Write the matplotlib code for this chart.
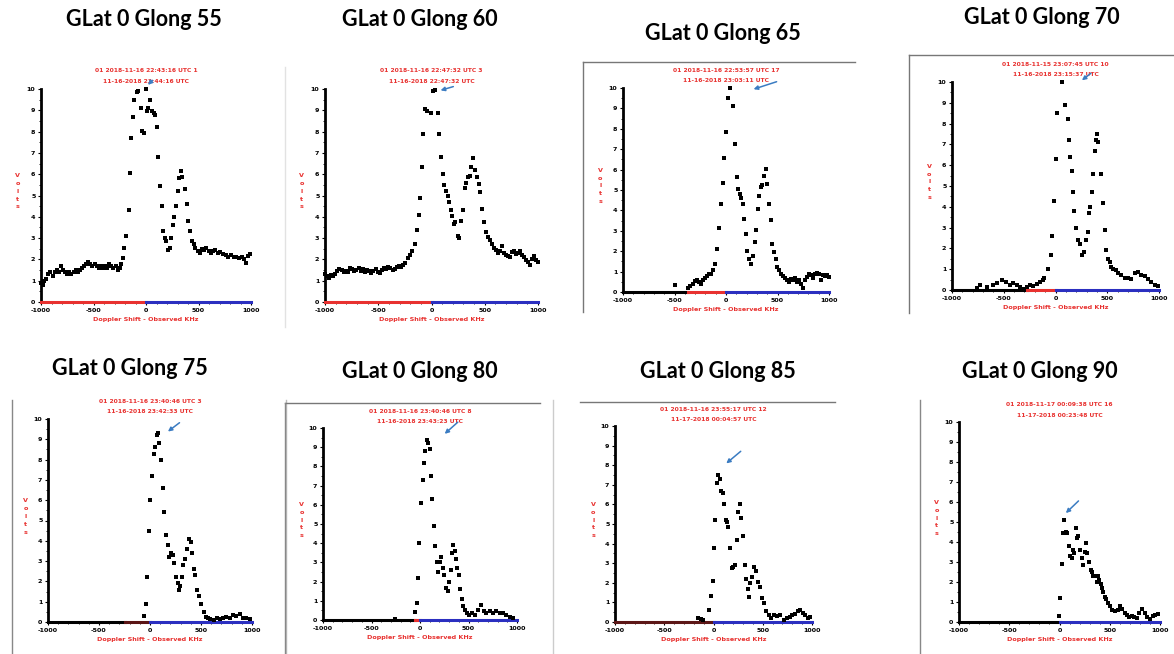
import numpy as np
import matplotlib
matplotlib.use("Agg")
import matplotlib.pyplot as plt
from matplotlib.lines import Line2D

# ================================================================
# Data (Doppler shift kHz, volts)
# ================================================================
titles = ["GLat 0 Glong 55", "GLat 0 Glong 60", "GLat 0 Glong 65", "GLat 0 Glong 70",
          "GLat 0 Glong 75", "GLat 0 Glong 80", "GLat 0 Glong 85", "GLat 0 Glong 90"]

headers = [
    ("01 2018-11-16 22:43:16 UTC 1", "11-16-2018 23:44:16 UTC"),
    ("01 2018-11-16 22:47:32 UTC 3", "11-16-2018 22:47:32 UTC"),
    ("01 2018-11-16 22:53:57 UTC 17", "11-16-2018 23:03:11 UTC"),
    ("01 2018-11-15 23:07:45 UTC 10", "11-16-2018 23:15:37 UTC"),
    ("01 2018-11-16 23:40:46 UTC 3", "11-16-2018 23:42:33 UTC"),
    ("01 2018-11-16 23:40:46 UTC 8", "11-16-2018 23:43:23 UTC"),
    ("01 2018-11-16 23:55:17 UTC 12", "11-17-2018 00:04:57 UTC"),
    ("01 2018-11-17 00:09:38 UTC 16", "11-17-2018 00:23:48 UTC"),
]

x55 = [-1000, -985, -970, -950, -930, -910, -890, -870, -850, -830, -810, -790, -770, -750,
       -730, -710, -690, -670, -650, -630, -610, -590, -570, -550, -530, -510, -490, -470,
       -450, -430, -410, -390, -370, -350, -330, -310, -290, -270, -250, -235,
       -219, -206, -187, -165, -156, -140, -124, -111, -89, -76, -51, -38, -22, 0, 9, 22,
       41, 57, 73, 86, 105, 117, 133, 149, 162, 181, 194, 210, 225, 241, 254, 270, 286, 302,
       317, 330, 340, 368, 387, 400, 416, 438, 454, 470, 492, 511, 533, 556, 575, 597, 619,
       638, 660, 683, 708, 733, 759, 784, 810, 835, 860, 886, 911, 937, 956, 975, 994]
y55 = [0.9, 0.8, 1.0, 1.1, 1.3, 1.4, 1.2, 1.4, 1.5, 1.4, 1.7, 1.5, 1.4, 1.3, 1.4, 1.3, 1.4,
       1.5, 1.4, 1.5, 1.6, 1.7, 1.8, 1.9, 1.8, 1.7, 1.8, 1.7, 1.6, 1.7, 1.6, 1.7, 1.6, 1.8,
       1.7, 1.6, 1.7, 1.5, 1.6, 1.8,
       2.05, 2.55, 3.1, 4.3, 6.05, 7.7, 8.7, 9.5, 9.85, 9.9, 9.1, 8.05, 7.95, 10.0, 8.95, 9.1,
       9.5, 8.95, 8.85, 8.8, 8.2, 6.8, 5.45, 4.5, 3.35, 3.0, 2.85, 2.45, 2.55, 3.0, 3.6, 4.0,
       4.5, 5.2, 5.8, 6.15, 5.85, 5.3, 4.6, 3.8, 3.35, 2.85, 2.7, 2.55, 2.4, 2.3, 2.5, 2.45,
       2.55, 2.4, 2.3, 2.4, 2.45, 2.3, 2.35, 2.25, 2.2, 2.1, 2.2, 2.1, 2.1, 2.05, 2.1, 2.0,
       1.85, 2.15, 2.25]

x60 = [-1000, -985, -965, -945, -925, -905, -885, -865, -845, -825, -805, -785, -765, -745,
       -725, -705, -685, -665, -645, -625, -605, -585, -565, -545, -525, -505, -485, -465,
       -445, -425, -405, -385, -365, -345, -325, -305, -285, -265, -245, -225, -205, -185,
       -152, -133, -118, -108, -93, -77, -58, -46, -5, 17, 36, 58, 74, 89, 105, 121, 137,
       152, 168, 181, 193, 209, 221, 246, 262, 278, 294, 312, 325, 344, 359, 375, 391, 407,
       429, 444, 460, 476, 494, 513, 532, 551, 570, 589, 608, 626, 645, 664, 683, 702, 721,
       739, 758, 777, 796, 815, 834, 852, 871, 890, 909, 928, 947, 965, 984, 1000]
y60 = [1.3, 1.2, 1.15, 1.25, 1.2, 1.3, 1.45, 1.55, 1.5, 1.4, 1.45, 1.4, 1.6, 1.55, 1.45,
       1.5, 1.6, 1.45, 1.55, 1.4, 1.5, 1.45, 1.35, 1.45, 1.55, 1.4, 1.35, 1.5, 1.6, 1.55,
       1.65, 1.6, 1.5, 1.55, 1.65, 1.7, 1.65, 1.75, 1.85, 2.05, 2.2, 2.4,
       2.7, 3.4, 4.1, 4.9, 6.35, 7.9, 9.05, 8.95, 8.85, 9.9, 9.95, 8.85, 7.9, 6.8, 6.0, 5.5,
       5.2, 5.0, 4.7, 4.3, 4.05, 3.65, 3.75, 3.1, 3.0, 3.8, 4.3, 5.35, 5.6, 5.85, 5.9, 6.35,
       6.75, 6.2, 5.85, 5.55, 5.15, 4.35, 3.75, 3.3, 3.05, 2.9, 2.7, 2.55, 2.45, 2.3, 2.4,
       2.65, 2.3, 2.2, 2.15, 2.1, 2.35, 2.4, 2.25, 2.3, 2.4, 2.2, 2.1, 1.95, 1.9, 1.75, 2.0,
       2.15, 1.95, 1.9]

x65 = [-495, -372, -350, -324, -298, -278, -259, -239, -220, -201, -181, -162, -142, -123,
       -104, -84, -65, -49, -32, -16, 0, 16, 39, 71, 91, 104, 120, 136, 149, 162, 175, 191,
       207, 223, 243, 259, 278, 291, 307, 324, 340, 353, 369, 385, 401, 417, 434, 450, 466,
       482, 498, 515, 531, 550, 570, 589, 608, 628, 647, 667, 686, 705, 725, 744, 764, 783,
       803, 822, 841, 861, 880, 900, 919, 939, 958, 977, 997]
y65 = [0.33, 0.2, 0.28, 0.4, 0.54, 0.57, 0.5, 0.38, 0.6, 0.7, 0.77, 0.9, 0.87, 1.1, 1.35,
       2.1, 3.15, 4.33, 5.35, 6.55, 7.85, 9.5, 10.0, 9.1, 7.27, 5.64, 5.07, 4.82, 4.62, 4.3,
       3.6, 2.86, 2.0, 1.63, 1.39, 1.75, 2.45, 3.06, 4.08, 4.7, 5.15, 5.23, 5.67, 6.05, 5.28,
       4.3, 3.55, 2.37, 1.96, 1.63, 1.23, 1.06, 0.9, 0.77, 0.7, 0.6, 0.49, 0.65, 0.57, 0.7,
       0.49, 0.57, 0.41, 0.21, 0.6, 0.74, 0.9, 0.82, 0.7, 0.87, 0.93, 0.9, 0.6, 0.82, 0.77,
       0.82, 0.74]

x70 = [-760, -729, -664, -600, -568, -520, -478, -440, -408, -375, -343, -311, -279, -247,
       -215, -183, -151, -125, -112, -71, -48, -29, -13, 0, 19, 61, 90, 116, 132, 144, 157,
       170, 183, 202, 222, 234, 254, 273, 299, 311, 324, 337, 350, 363, 379, 395, 401, 414,
       443, 459, 475, 491, 507, 523, 539, 555, 581, 604, 636, 668, 700, 732, 764, 796, 828,
       860, 892, 924, 957, 989]
y70 = [0.1, 0.25, 0.15, 0.25, 0.35, 0.5, 0.4, 0.25, 0.35, 0.25, 0.15, 0.05, 0.15, 0.25,
       0.2, 0.3, 0.4, 0.5, 0.6, 1.0, 1.7, 2.6, 4.3, 6.3, 8.5, 10.0, 8.9, 8.2, 7.2, 6.4, 5.7,
       4.7, 3.8, 3.0, 2.4, 2.2, 1.7, 1.85, 2.4, 2.8, 3.7, 4.0, 4.7, 5.6, 6.7, 7.2, 7.5, 7.1,
       5.6, 4.2, 2.9, 1.9, 1.5, 1.35, 1.1, 1.0, 0.95, 0.8, 0.7, 0.6, 0.6, 0.55, 0.8, 0.85,
       0.7, 0.65, 0.55, 0.4, 0.25, 0.2]

x75 = [-59, -43, -30, -13, 3, 20, 36, 49, 66, 75, 92, 108, 125, 141, 157, 174, 190, 207,
       223, 239, 256, 272, 285, 298, 311, 328, 348, 367, 387, 403, 413, 430, 446, 462, 479,
       502, 525, 548, 567, 590, 623, 656, 682, 715, 748, 780, 813, 846, 879, 911, 944, 984]
y75 = [0.3, 0.9, 2.2, 4.5, 6.0, 7.2, 8.3, 8.6, 9.2, 9.3, 8.8, 8.0, 6.6, 5.4, 4.3, 3.8, 3.2,
       3.4, 3.3, 2.9, 2.2, 1.9, 1.6, 1.75, 2.2, 2.8, 3.1, 3.6, 4.1, 3.95, 3.4, 2.6, 2.3, 1.6,
       1.3, 0.9, 0.5, 0.25, 0.2, 0.15, 0.1, 0.2, 0.15, 0.2, 0.25, 0.2, 0.35, 0.3, 0.4, 0.2,
       0.2, 0.15]

x80 = [-257, -51, -34, -21, -7, 10, 27, 41, 55, 68, 82, 99, 113, 127, 144, 158, 171, 185,
       202, 219, 233, 250, 267, 284, 301, 315, 329, 342, 356, 370, 384, 397, 411, 428, 445,
       466, 486, 507, 534, 565, 599, 627, 658, 685, 719, 753, 788, 822, 856, 890, 925, 959]
y80 = [0.05, 0.4, 0.9, 2.2, 4.0, 6.1, 7.3, 8.2, 8.8, 9.4, 9.2, 8.9, 7.5, 6.3, 4.9, 3.85,
       3.0, 2.5, 3.0, 3.3, 2.7, 2.35, 1.65, 1.5, 2.0, 2.6, 3.5, 3.9, 3.6, 3.2, 2.7, 2.35,
       1.6, 1.1, 0.75, 0.5, 0.35, 0.25, 0.35, 0.25, 0.5, 0.8, 0.45, 0.35, 0.45, 0.35, 0.45,
       0.35, 0.35, 0.25, 0.15, 0.1]

x85 = [-153, -129, -102, -41, -24, -10, 7, 20, 34, 47, 61, 78, 95, 108, 125, 136, 149, 169,
       190, 203, 217, 237, 251, 268, 278, 298, 315, 332, 346, 359, 373, 393, 414, 434, 454,
       475, 495, 515, 536, 559, 583, 610, 644, 678, 712, 746, 773, 800, 827, 854, 881, 908,
       932, 956, 983]
y85 = [0.2, 0.15, 0.1, 0.6, 1.35, 2.1, 3.8, 5.2, 7.1, 7.5, 7.3, 6.7, 6.6, 6.0, 5.2, 5.1,
       4.85, 3.8, 2.75, 2.8, 2.9, 4.2, 5.6, 6.0, 5.3, 4.4, 2.9, 2.2, 1.7, 1.3, 2.0, 2.3, 2.8,
       2.6, 2.05, 1.8, 1.2, 0.95, 0.55, 0.35, 0.2, 0.35, 0.3, 0.35, 0.1, 0.2, 0.25, 0.35,
       0.4, 0.55, 0.6, 0.45, 0.35, 0.2, 0.25]

x90 = [-7, 7, 20, 37, 46, 60, 76, 90, 103, 120, 133, 146, 163, 176, 189, 203, 219, 236, 249,
       262, 276, 292, 309, 322, 336, 352, 369, 382, 395, 409, 422, 435, 449, 465, 482, 502,
       525, 551, 578, 601, 625, 648, 671, 694, 718, 741, 767, 794, 821, 847, 874, 900, 927,
       953, 980]
y90 = [0.3, 1.2, 2.9, 4.45, 5.1, 4.5, 4.45, 3.8, 3.3, 3.2, 3.6, 3.45, 4.7, 4.2, 4.3, 3.6,
       3.2, 2.85, 3.5, 3.95, 3.45, 3.0, 2.6, 2.5, 2.3, 2.3, 2.0, 2.3, 2.1, 1.9, 1.7, 1.5,
       1.25, 1.15, 0.95, 0.8, 0.6, 0.55, 0.6, 0.8, 0.65, 0.45, 0.35, 0.25, 0.3, 0.25, 0.2,
       0.45, 0.65, 0.45, 0.25, 0.15, 0.3, 0.35, 0.4]

xs = [x55, x60, x65, x70, x75, x80, x85, x90]
ys = [y55, y60, y65, y70, y75, y80, y85, y90]

# arrow (tip, tail) per panel, in data units
arrows = [((0, 10.1), (80, 10.5)), ((60, 9.9), (230, 10.15)), ((242, 9.9), (517, 10.35)),
          ((234, 10.0), (363, 10.5)), ((154, 9.3), (311, 9.9)), ((233, 9.6), (411, 10.4)),
          ((108, 8.0), (298, 8.8)), ((43, 5.35), (209, 6.15))]

# x-axis colour split: black until split, then second colour until 0, blue after
axis_split = [-1000, -1000, -372, -280, -250, -51, -1000, 0]
axis_mid = ['#e8312f', '#e8312f', '#e8312f', '#e8312f', '#5a1414', '#e8312f', '#5c1616', '#e8312f']

# ================================================================
# Layout (pixels in the 1174x654 picture)
# ================================================================
W, H = 1174, 654
boxes = [(41, 251, 89, 302), (325, 538, 89, 302), (623, 829, 88, 292), (952, 1159, 82, 290),
         (48, 252, 419, 622), (323, 517, 428, 620), (615, 812, 426, 622), (959, 1160, 422, 622)]
title_pos = [(144, 20), (420, 20), (723, 33), (1042, 18),
             (130, 369), (420, 372), (718, 372), (1040, 372)]

RED = '#e8312f'
BLUE = '#2b2fc0'

fig = plt.figure(figsize=(W / 100, H / 100), dpi=100)

def px(x, y):
    return x / W, 1 - y / H

# panel frames (gray lines from the pasted screenshots)
frames = [((285, 67), (285, 327), '#e2e2e2'),
          ((583, 62), (855, 62), '#777777'), ((583, 62), (583, 312), '#777777'),
          ((909, 55), (1174, 55), '#777777'), ((909, 55), (909, 313), '#777777'),
          ((12, 400), (12, 654), '#888888'), ((286, 400), (286, 654), '#bbbbbb'),
          ((285, 403), (540, 403), '#777777'), ((285, 403), (285, 654), '#888888'),
          ((580, 402), (835, 402), '#777777'), ((553, 400), (553, 654), '#cccccc'),
          ((920, 400), (920, 654), '#888888')]
for (x0, y0), (x1, y1), c in frames:
    a, b = px(x0, y0)
    c2, d = px(x1, y1)
    fig.add_artist(Line2D([a, c2], [b, d], color=c, lw=1.0, transform=fig.transFigure))

for i in range(8):
    l, r, t, b = boxes[i]
    ax = fig.add_axes([l / W, 1 - b / H, (r - l) / W, (b - t) / H])
    ax.set_xlim(-1000, 1000)
    ax.set_ylim(0, 10)

    ax.scatter(xs[i], ys[i], s=5, marker='s', color='black', linewidths=0, clip_on=False, zorder=4)

    for s in ['top', 'right', 'bottom']:
        ax.spines[s].set_visible(False)
    ax.spines['left'].set_linewidth(2.0)

    # coloured x axis
    split = (axis_split[i] + 1000) / 2000
    if split > 0:
        ax.axhline(0, xmin=0, xmax=split, color='black', lw=2.2, clip_on=False, zorder=3)
    ax.axhline(0, xmin=split, xmax=0.5, color=axis_mid[i], lw=2.2, clip_on=False, zorder=3)
    ax.axhline(0, xmin=0.5, xmax=1, color=BLUE, lw=2.2, clip_on=False, zorder=3)

    ax.set_xticks([-1000, -500, 0, 500, 1000])
    ax.set_xticklabels(['-1000', '-500', '0', '500', '1000'])
    ax.set_xticks(np.arange(-900, 1000, 100), minor=True)
    ax.set_yticks(range(0, 11))
    ax.set_yticks(np.arange(0.5, 10, 1.0), minor=True)
    ax.tick_params(axis='both', which='major', labelsize=4.6, length=2.5, width=0.8, pad=1.5)
    ax.tick_params(axis='both', which='minor', length=1.5, width=0.6)
    for lab in ax.get_xticklabels() + ax.get_yticklabels():
        lab.set_fontweight('bold')

    ax.set_xlabel('Doppler Shift - Observed KHz', fontsize=4.6, color=RED,
                  fontweight='bold', labelpad=3)
    ax.text(-0.11, 0.52, 'V\no\nl\nt\ns', transform=ax.transAxes, color=RED, fontsize=4.6,
            fontweight='bold', ha='center', va='center', linespacing=1.7)

    h1, h2 = headers[i]
    ax.text(0.5, 1.085, h1, transform=ax.transAxes, color=RED, fontsize=4.3,
            fontweight='bold', ha='center', va='center')
    ax.text(0.5, 1.035, h2, transform=ax.transAxes, color=RED, fontsize=4.3,
            fontweight='bold', ha='center', va='center')

    tip, tail = arrows[i]
    ax.annotate('', xy=tip, xytext=tail, annotation_clip=False,
                arrowprops=dict(arrowstyle='-|>', color='#3b7cc2', lw=1.1, mutation_scale=6))

    tx, ty = title_pos[i]
    fx, fy = px(tx, ty)
    fig.text(fx, fy, titles[i], fontsize=15.5, family='Lato', fontweight='bold',
             ha='center', va='center')

fig.savefig('out.png', dpi=100)
